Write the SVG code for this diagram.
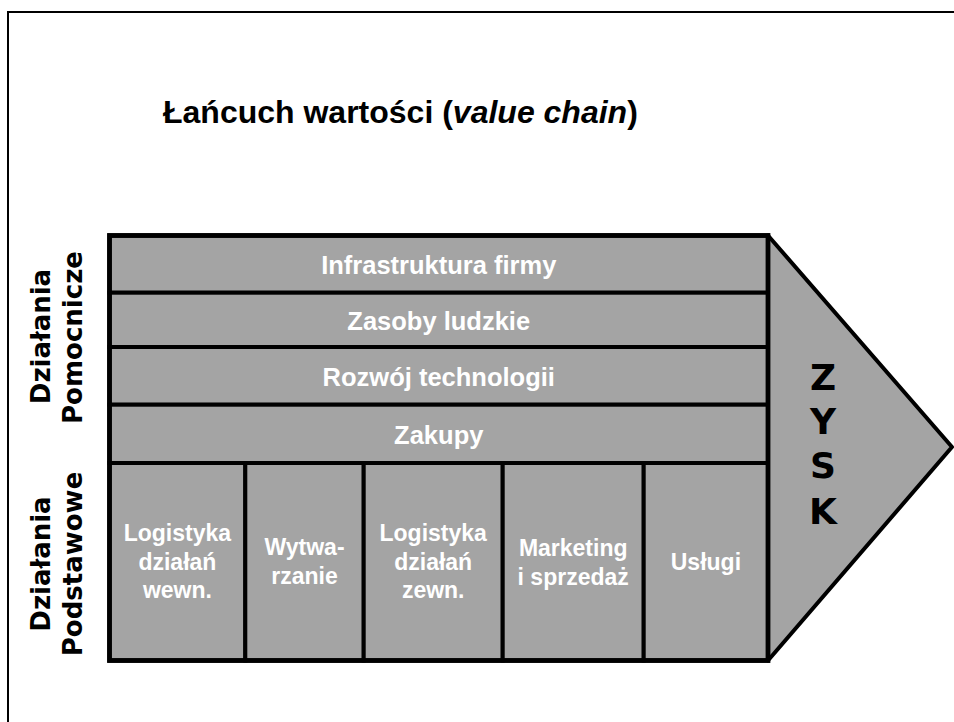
<svg xmlns="http://www.w3.org/2000/svg" width="954" height="722" viewBox="0 0 954 722">
  <style>
    .band { fill: #a4a4a4; stroke: #000; stroke-width: 4; }
    .lbl { font-family: "Liberation Sans", Arial, sans-serif; font-weight: bold; fill: #fff; text-anchor: middle; }
    .row { font-size: 25.5px; }
    .cell { font-size: 23px; }
    .side { font-family: "DejaVu Sans", Verdana, sans-serif; font-weight: bold; font-size: 26px; fill: #000; text-anchor: middle; }
    .zysk { font-family: "DejaVu Sans", Verdana, sans-serif; font-weight: bold; font-size: 36px; fill: #000; text-anchor: middle; }
  </style>

  <rect width="954" height="722" fill="#fff"/>
  <!-- page frame, runs off the right and bottom edges -->
  <rect x="8" y="12" width="980" height="740" fill="none" stroke="#000" stroke-width="2"/>

  <text x="163" y="123" font-family="Liberation Sans, Arial, sans-serif" font-weight="bold" font-size="32" fill="#000">Łańcuch wartości (<tspan font-style="italic">value chain</tspan>)</text>

  <!-- profit arrow head -->
  <g id="zysk">
    <polygon points="768,235.5 952,447 768,660.5" fill="#a4a4a4" stroke="#000" stroke-width="4" stroke-linejoin="round"/>
    <text class="zysk" x="823" y="390">Z</text>
    <text class="zysk" x="823" y="434">Y</text>
    <text class="zysk" x="823" y="478">S</text>
    <text class="zysk" x="823" y="524">K</text>
  </g>

  <!-- support activities -->
  <g id="infrastruktura">
    <rect class="band" x="109.5" y="235.5" width="658.5" height="57.2"/>
    <text class="lbl row" x="438.75" y="274">Infrastruktura firmy</text>
  </g>
  <g id="zasoby">
    <rect class="band" x="109.5" y="292.7" width="658.5" height="54.3"/>
    <text class="lbl row" x="438.75" y="330">Zasoby ludzkie</text>
  </g>
  <g id="rozwoj">
    <rect class="band" x="109.5" y="347" width="658.5" height="57.7"/>
    <text class="lbl row" x="438.75" y="386">Rozwój technologii</text>
  </g>
  <g id="zakupy">
    <rect class="band" x="109.5" y="404.7" width="658.5" height="58.3"/>
    <text class="lbl row" x="438.75" y="444">Zakupy</text>
  </g>

  <!-- primary activities -->
  <g id="log-wewn">
    <rect class="band" x="109.5" y="463" width="135.8" height="197.5"/>
    <text class="lbl cell" x="177.4" y="541">Logistyka</text>
    <text class="lbl cell" x="177.4" y="570">działań</text>
    <text class="lbl cell" x="177.4" y="598">wewn.</text>
  </g>
  <g id="wytwarzanie">
    <rect class="band" x="245.3" y="463" width="118.4" height="197.5"/>
    <text class="lbl cell" x="304.5" y="555">Wytwa-</text>
    <text class="lbl cell" x="304.5" y="584">rzanie</text>
  </g>
  <g id="log-zewn">
    <rect class="band" x="363.7" y="463" width="139" height="197.5"/>
    <text class="lbl cell" x="433.2" y="541">Logistyka</text>
    <text class="lbl cell" x="433.2" y="570">działań</text>
    <text class="lbl cell" x="433.2" y="598">zewn.</text>
  </g>
  <g id="marketing">
    <rect class="band" x="502.7" y="463" width="141" height="197.5"/>
    <text class="lbl cell" x="573.2" y="556">Marketing</text>
    <text class="lbl cell" x="573.2" y="585">i sprzedaż</text>
  </g>
  <g id="uslugi">
    <rect class="band" x="643.7" y="463" width="124.3" height="197.5"/>
    <text class="lbl cell" x="705.9" y="570">Usługi</text>
  </g>

  <!-- outer border of the activity block -->
  <g id="connectors">
    <rect x="109.5" y="235.5" width="658.5" height="425" fill="none" stroke="#000" stroke-width="4.8"/>
  </g>

  <!-- side captions -->
  <g id="pomocnicze">
    <text class="side" transform="translate(50,336.5) rotate(-90)">Działania</text>
    <text class="side" transform="translate(81.5,337.5) rotate(-90)">Pomocnicze</text>
  </g>
  <g id="podstawowe">
    <text class="side" transform="translate(50,564) rotate(-90)">Działania</text>
    <text class="side" transform="translate(81.5,564) rotate(-90)">Podstawowe</text>
  </g>
</svg>
